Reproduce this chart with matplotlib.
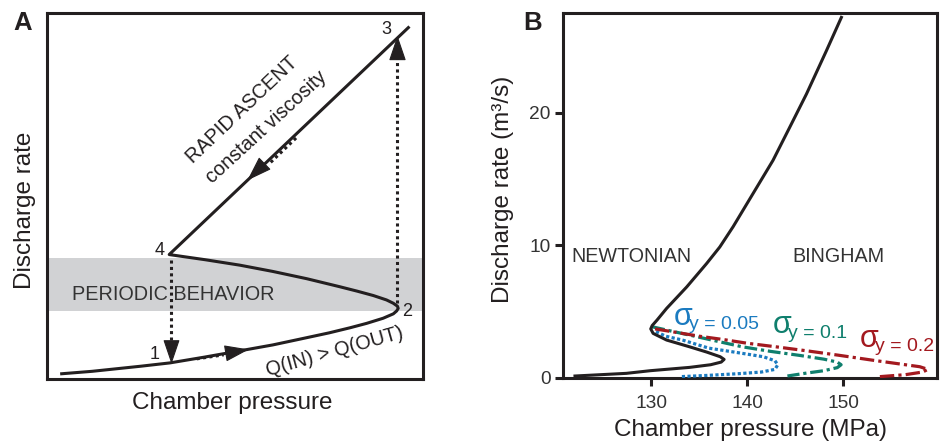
import numpy as np
import matplotlib
matplotlib.use("Agg")
import matplotlib.pyplot as plt
from matplotlib.path import Path
from matplotlib.markers import MarkerStyle
from matplotlib.transforms import Affine2D

plt.rcParams['font.family'] = ['Liberation Sans', 'DejaVu Sans']

INK = '#231f20'
GREY_TXT = '#333333'

# ---- Panel A: schematic S-curve (arbitrary units, 0-100) ----
cycle_p = [3.5, 12.0, 18.5, 25.0, 32.7, 42.0, 51.3, 60.0, 67.3, 75.0, 80.6, 85.0,
           89.4, 92.1, 93.0, 93.4, 93.2, 92.1, 90.3, 86.8, 82.5, 77.9, 69.1, 60.0,
           51.3, 42.0, 32.5, 96.4]
cycle_q = [1.4, 2.1, 2.8, 3.5, 4.4, 6.0, 7.7, 9.3, 10.9, 12.6, 14.0, 15.2,
           16.6, 17.8, 18.6, 19.3, 19.9, 20.7, 21.6, 22.8, 24.0, 25.2, 27.4, 29.4,
           31.1, 32.6, 34.0, 96.3]
band_q = (18.5, 33.0)
pt_labels = ['1', '2', '3', '4']
pt_p = [28.7, 95.7, 90.3, 29.9]
pt_q = [6.6, 18.4, 95.4, 35.1]

# ---- Panel B: chamber pressure (MPa) vs discharge rate (m3/s) ----
newt_p = [122.05, 127.4, 129.9, 134.0, 136.2, 137.3, 137.6, 137.2, 135.8, 134.0,
          131.6, 130.2, 129.95, 130.1, 130.6, 131.6, 133.7, 135.77, 137.15, 138.54,
          140.62, 142.7, 144.45, 146.19, 148.27, 149.83]
newt_q = [0.15, 0.35, 0.55, 0.8, 1.0, 1.2, 1.4, 1.6, 1.95, 2.35,
          2.86, 3.36, 3.7, 3.95, 4.36, 5.24, 6.86, 8.62, 9.87, 11.4,
          13.9, 16.4, 18.9, 21.4, 24.66, 27.17]

bing005_p = [130.5, 131.5, 133.3, 136.0, 139.3, 141.7, 142.9, 143.2, 142.9, 141.5,
             139.2, 136.0, 133.0]
bing005_q = [3.5, 3.15, 2.85, 2.25, 1.88, 1.6, 1.3, 1.0, 0.65, 0.45,
             0.33, 0.2, 0.1]

bing01_p = [130.1, 132.0, 134.2, 137.0, 139.5, 142.5, 145.5, 148.0, 149.4, 149.8,
            149.4, 148.0, 146.0, 144.2]
bing01_q = [3.86, 3.55, 3.2, 2.75, 2.35, 2.0, 1.7, 1.42, 1.2, 1.0,
            0.78, 0.55, 0.35, 0.15]

bing02_p = [130.4, 132.5, 135.0, 137.5, 140.0, 143.0, 146.2, 149.5, 153.0, 156.0,
            158.0, 158.85, 158.3, 156.5, 153.8]
bing02_q = [3.7, 3.45, 3.15, 2.9, 2.62, 2.35, 2.05, 1.72, 1.35, 1.05,
            0.85, 0.65, 0.45, 0.25, 0.1]

sigma_vals = ['0.05', '0.1', '0.2']
sigma_colors = ['#1b7bc0', '#0f7f6d', '#a3191f']
sigma_pos_p = [132.36, 142.7, 151.7]
sigma_pos_q = [3.98, 3.36, 2.36]

x_ticks = [130, 140, 150]
y_ticks = [0, 10, 20]

fig = plt.figure(figsize=(9.44, 4.42), dpi=100)
axA = fig.add_axes([47 / 944, 1 - 379 / 442, 376 / 944, 366 / 442])
axB = fig.add_axes([563 / 944, 1 - 378 / 442, 374 / 944, 365 / 442])

for ax in (axA, axB):
    for s in ax.spines.values():
        s.set_linewidth(2.2)
        s.set_color(INK)

# ---------------- Panel A ----------------
axA.set_xlim(0, 100)
axA.set_ylim(0, 100)
axA.set_xticks([])
axA.set_yticks([])
axA.axhspan(*band_q, color='#d1d2d4', lw=0, zorder=0)
axA.plot(cycle_p, cycle_q, color=INK, lw=2.2, solid_joinstyle='round',
         solid_capstyle='butt', zorder=3)

dot_style = dict(color=INK, lw=2.2, ls=(0, (1, 1.1)), zorder=2)


def arrow_head(ax, tip, frm, size, color=INK):
    """Filled triangular head with its point at `tip`, aimed away from `frm`."""
    tr = ax.transData
    t = tr.transform(tip)
    f = tr.transform(frm)
    u = (t - f) / np.hypot(*(t - f))
    ang = np.degrees(np.arctan2(u[1], u[0]))
    size_px = size * fig.dpi / 72.0
    centre = tr.inverted().transform(t - u * size_px / 2)
    tri = Path([(0.5, 0), (-0.5, 0.34), (-0.5, -0.34), (0.5, 0)],
               [Path.MOVETO, Path.LINETO, Path.LINETO, Path.CLOSEPOLY])
    m = MarkerStyle(tri, transform=Affine2D().rotate_deg(ang))
    ax.plot([centre[0]], [centre[1]], marker=m, markersize=size,
            color=color, mec=color, mew=0.8, zorder=5)
    return tr.inverted().transform(t - u * size_px * 0.9)


# 4 -> 1 drop
base = arrow_head(axA, (33.0, 4.6), (33.0, 32.5), 15.5)
axA.plot([33.0, base[0]], [32.5, base[1]], **dot_style)
# 2 -> 3 jump
base = arrow_head(axA, (93.0, 93.5), (93.0, 20.8), 16)
axA.plot([93.0, base[0]], [20.8, base[1]], **dot_style)
# slow pressurisation along lower branch
arrow_head(axA, (53.2, 8.0), (46.8, 6.9), 15.5)
axA.plot([39.8, 47.0], [5.5, 6.6], **dot_style)
# rapid ascent back down the upper branch
arrow_head(axA, (53.6, 54.6), (58.6, 59.6), 16)
axA.plot([59.5, 66.4], [59.2, 66.0], **dot_style)

for lab, p, q in zip(pt_labels, pt_p, pt_q):
    axA.text(p, q, lab, fontsize=13, color=INK, ha='center', va='center')

axA.text(6.6, 21.6, 'PERIODIC BEHAVIOR', fontsize=14.3, color=GREY_TXT,
         ha='left', va='baseline', zorder=1)
axA.text(52.8, 72.4, 'RAPID ASCENT', fontsize=14.3, color=INK, rotation=43.5,
         rotation_mode='anchor', ha='center', va='baseline')
axA.text(59.2, 67.8, 'constant viscosity', fontsize=14.3, color=INK, rotation=42.5,
         rotation_mode='anchor', ha='center', va='baseline')
axA.text(77.0, 5.9, 'Q(IN) > Q(OUT)', fontsize=14.3, color=INK, rotation=15.7,
         rotation_mode='anchor', ha='center', va='baseline')

axA.text(-0.0585, 0.462, 'Discharge rate', transform=axA.transAxes, rotation=90,
         fontsize=17.5, color=INK, ha='center', va='center')
axA.text(0.492, -0.066, 'Chamber pressure', transform=axA.transAxes,
         fontsize=17.5, color=INK, ha='center', va='center')

# ---------------- Panel B ----------------
axB.set_xlim(120.8, 159.8)
axB.set_ylim(0, 27.5)
axB.set_xticks(x_ticks)
axB.set_yticks(y_ticks)
axB.tick_params(direction='out', length=6, width=2.2, color=INK, labelsize=13.8,
                labelcolor=GREY_TXT)
axB.tick_params(axis='x', pad=6)
axB.tick_params(axis='y', pad=3)

axB.plot(newt_p, newt_q, color=INK, lw=2.2, solid_joinstyle='round', zorder=4)
axB.plot(bing005_p, bing005_q, color=sigma_colors[0], lw=2.3, ls=(0, (1, 0.75)),
         zorder=3)
axB.plot(bing01_p, bing01_q, color=sigma_colors[1], lw=2.3,
         ls=(0, (4, 1.2, 1, 1.2)), zorder=3)
axB.plot(bing02_p, bing02_q, color=sigma_colors[2], lw=2.3,
         ls=(0, (4.5, 1.3, 1, 1.3)), zorder=3)

for val, col, p, q in zip(sigma_vals, sigma_colors, sigma_pos_p, sigma_pos_q):
    axB.text(p, q, '\u03c3', fontsize=22, color=col, ha='left', va='baseline')
    axB.annotate('y = ' + val, xy=(p, q), xytext=(11, -3), textcoords='offset points',
                 fontsize=14, color=col, ha='left', va='baseline')

axB.text(121.63, 8.74, 'NEWTONIAN', fontsize=14.2, color=GREY_TXT,
         ha='left', va='baseline')
axB.text(144.76, 8.74, 'BINGHAM', fontsize=14.2, color=GREY_TXT,
         ha='left', va='baseline')

axB.text(-0.16, 0.518, 'Discharge rate (m\u00b3/s)', transform=axB.transAxes,
         rotation=90, fontsize=17.5, color=INK, ha='center', va='center')
axB.text(0.5, -0.142, 'Chamber pressure (MPa)', transform=axB.transAxes,
         fontsize=17.5, color=INK, ha='center', va='center')

fig.text(23 / 944, 1 - 23 / 442, 'A', fontsize=18.5, fontweight='bold', color=INK,
         ha='center', va='center')
fig.text(533 / 944, 1 - 23 / 442, 'B', fontsize=18.5, fontweight='bold', color=INK,
         ha='center', va='center')

fig.savefig('out.png', dpi=100)
